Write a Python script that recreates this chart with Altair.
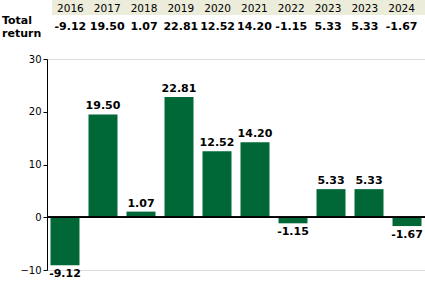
import altair as alt
import pandas as pd

years = ["2016", "2017", "2018", "2019", "2020", "2021", "2022", "2023", "2023", "2024"]
returns = [-9.12, 19.50, 1.07, 22.81, 12.52, 14.20, -1.15, 5.33, 5.33, -1.67]
y_ticks = [-10, -5, 0, 5, 10, 15, 20, 25, 30]
row_title = ["Total", "return"]

FONT = "DejaVu Sans"
GREEN = "#006837"
idx = list(range(len(years)))

df = pd.DataFrame({
    "idx": idx,
    "year": years,
    "value": returns,
    "label": [f"{v:.2f}" for v in returns],
})

xbar = alt.X("idx:O", scale=alt.Scale(domain=idx, paddingInner=0.237, paddingOuter=0.092), axis=None)
yscale = alt.Scale(domain=[-10, 30], nice=False, zero=False)

bars = alt.Chart(df).mark_bar(color=GREEN).encode(
    x=xbar,
    y=alt.Y("value:Q", scale=yscale, title=None,
            axis=alt.Axis(values=y_ticks, grid=False, tickSize=4, domainColor="black",
                          tickColor="black", labelColor="black", labelFont=FONT,
                          labelFontSize=10, labelPadding=2,
                          labelExpr="datum.value % 10 == 0 ? datum.label : ''")),
    y2=alt.datum(0),
)

zero = alt.Chart(df).mark_rule(color="black", strokeWidth=1).encode(
    y=alt.Y(datum=0, scale=yscale),
    x=alt.value(0), x2=alt.value(378),
)

lab_pos = alt.Chart(df).transform_filter("datum.value >= 0").mark_text(
    font=FONT, fontSize=11, fontWeight="bold", baseline="bottom", dy=-3, color="black"
).encode(x=xbar, y=alt.Y("value:Q", scale=yscale), text="label:N")

lab_neg = alt.Chart(df).transform_filter("datum.value < 0").mark_text(
    font=FONT, fontSize=11, fontWeight="bold", baseline="top", dy=3, color="black"
).encode(x=xbar, y=alt.Y("value:Q", scale=yscale), text="label:N")

plot = alt.layer(bars, zero, lab_pos, lab_neg)

xtab = alt.X("idx:O", scale=alt.Scale(domain=idx, range=[5, 373], paddingInner=0, paddingOuter=0), axis=None)

bg = alt.Chart(df).mark_rect(color="#ececda").encode(
    x=alt.value(5), x2=alt.value(378), y=alt.value(-59), y2=alt.value(-44)
)
yr = alt.Chart(df).mark_text(font=FONT, fontSize=10.5, color="black", baseline="alphabetic").encode(
    x=xtab, y=alt.value(-47), text="year:N"
)
vals = alt.Chart(df).mark_text(font=FONT, fontSize=11, fontWeight="bold", color="black",
                               baseline="alphabetic").encode(
    x=xtab, y=alt.value(-29), text="label:N"
)
title = alt.Chart(pd.DataFrame({"t": row_title, "i": [0, 1]})).mark_text(
    font=FONT, fontSize=11, fontWeight="bold", color="black", align="left", baseline="alphabetic"
).encode(
    x=alt.value(-45),
    y=alt.Y("i:Q", scale=alt.Scale(domain=[0, 1], range=[-35, -22], nice=False, zero=False), axis=None),
    text="t:N",
)

table = alt.layer(bg, yr, vals)

chart = alt.layer(plot, table, title).resolve_scale(x="independent", y="independent").properties(
    width=378, height=211,
    padding={"left": 47, "top": 59, "right": 0, "bottom": 18},
    autosize=alt.AutoSizeParams(type="none"),
).configure_view(stroke=None).configure(background="white")

chart.save("out.html", embed_options={"renderer": "svg", "actions": False})
